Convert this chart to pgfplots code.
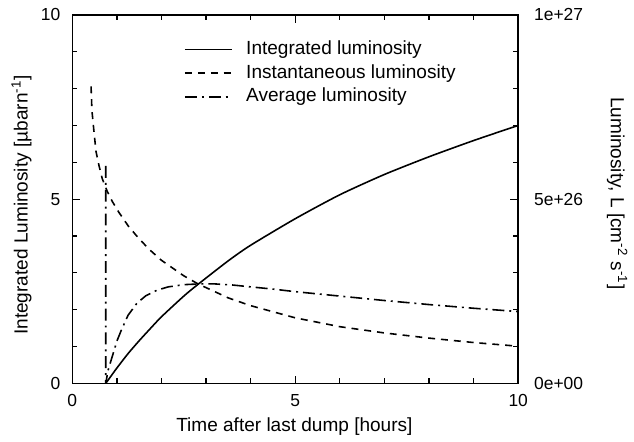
\documentclass[border=0pt]{standalone}
\usepackage{pgfplots}
\pgfplotsset{compat=1.18}
\usepackage{fontspec}
\setmainfont{Liberation Sans}
\begin{document}
\begin{tikzpicture}
\pgfplotsset{
  commonstyle/.style={
    scale only axis, width=225pt, height=186pt,
    xmin=0, xmax=10, ymin=0, ymax=10,
    tick align=inside,
    major tick length=4pt, minor tick length=2.5pt,
    axis line style={line width=0.75pt},
    every tick/.style={black, line width=0.6pt},
    /pgf/number format/assume math mode=true,
    ticklabel style={font=\fontsize{8.8}{10}\selectfont},
    label style={font=\fontsize{9.6}{11}\selectfont},
  }
}
\begin{axis}[
  commonstyle,
  xtick={0,5,10}, ytick={0,5,10},
  minor xtick={1,2,3,4,6,7,8,9}, minor ytick={1,2,3,4,6,7,8,9},
  xtick pos=both, ytick pos=left,
  yticklabel style={xshift=-2.5pt},
  xticklabel style={yshift=-2pt},
  xlabel={Time after last dump [hours]},
  ylabel={Integrated Luminosity [µbarn\textsuperscript{-1}]},
  xlabel style={at={(axis description cs:0.498,-0.116)}, anchor=center},
  ylabel style={at={(axis description cs:-0.114,0.484)}, anchor=center},
  legend style={at={(axis description cs:0.25,0.937)}, anchor=north west,
    draw=none, fill=none, inner sep=0pt, row sep=1pt,
    nodes={inner sep=1pt, text height=7pt, text depth=2pt, font=\fontsize{9.6}{11}\selectfont}},
  legend image code/.code={\draw[#1] (0pt,0pt) -- (23.5pt,0pt); \path (29.5pt,0pt);},
  legend cell align=left,
]
\coordinate (sw) at (rel axis cs:0,0);
\coordinate (ne) at (rel axis cs:1,1);
\addplot[black, line width=0.8pt, smooth, tension=0.4] coordinates {
(0.75,0) (0.8,0.087) (0.85,0.17) (1.0,0.42) (1.25,0.81) (1.5,1.16) (1.75,1.49)
(2.0,1.81) (2.5,2.37) (2.82,2.69) (3.5,3.33) (4.0,3.75) (5.0,4.47) (6.0,5.12)
(7.0,5.67) (8.0,6.15) (9.0,6.59) (10,7.00)
};
\addlegendentry{Integrated luminosity}
\addplot[black, line width=0.8pt, dash pattern=on 3.5pt off 3pt] coordinates {
(0.42,8.06) (0.44,7.40) (0.48,6.90) (0.53,6.30) (0.60,5.90) (0.67,5.56) (0.78,5.22)
(0.9,4.93) (1.04,4.65) (1.25,4.28) (1.5,3.92) (1.75,3.61) (2.0,3.34) (2.5,2.92)
(2.82,2.70) (3.5,2.32) (4.0,2.11) (5.0,1.78) (6.0,1.54) (7.0,1.37) (8.0,1.23)
(9.0,1.11) (10,1.01)
};
\addlegendentry{Instantaneous luminosity}
\addplot[black, line width=0.8pt, dash pattern=on 6pt off 2.5pt on 1pt off 2.5pt] coordinates {
(0.75,5.9) (0.75,0) (0.8,0.35) (0.9,0.75) (1.0,1.15) (1.1,1.45) (1.25,1.85)
(1.45,2.18) (1.65,2.38) (1.9,2.53) (2.15,2.62) (2.5,2.68) (2.85,2.70) (3.2,2.70)
(3.6,2.67) (4.0,2.62) (4.5,2.56) (5.0,2.49) (6.0,2.37) (7.0,2.25) (8.0,2.14)
(9.0,2.04) (10,1.95)
};
\addlegendentry{Average luminosity}
\end{axis}
\begin{axis}[
  commonstyle,
  axis x line=none,
  axis y line*=right,
  ytick={0,5,10},
  yticklabels={0e+00,5e+26,1e+27},
  minor ytick={1,2,3,4,6,7,8,9},
  yticklabel style={xshift=4.5pt},
  ylabel={Luminosity, L [cm\textsuperscript{-2} s\textsuperscript{-1}]},
  ylabel style={at={(axis description cs:1.222,0.516)}, anchor=center, rotate=180},
]
\addplot[draw=none] coordinates {(0,0) (10,10)};
\end{axis}
\path ([shift={(-36.5pt,-27.5pt)}]sw) rectangle ([shift={(55.5pt,7.5pt)}]ne);
\end{tikzpicture}
\end{document}
